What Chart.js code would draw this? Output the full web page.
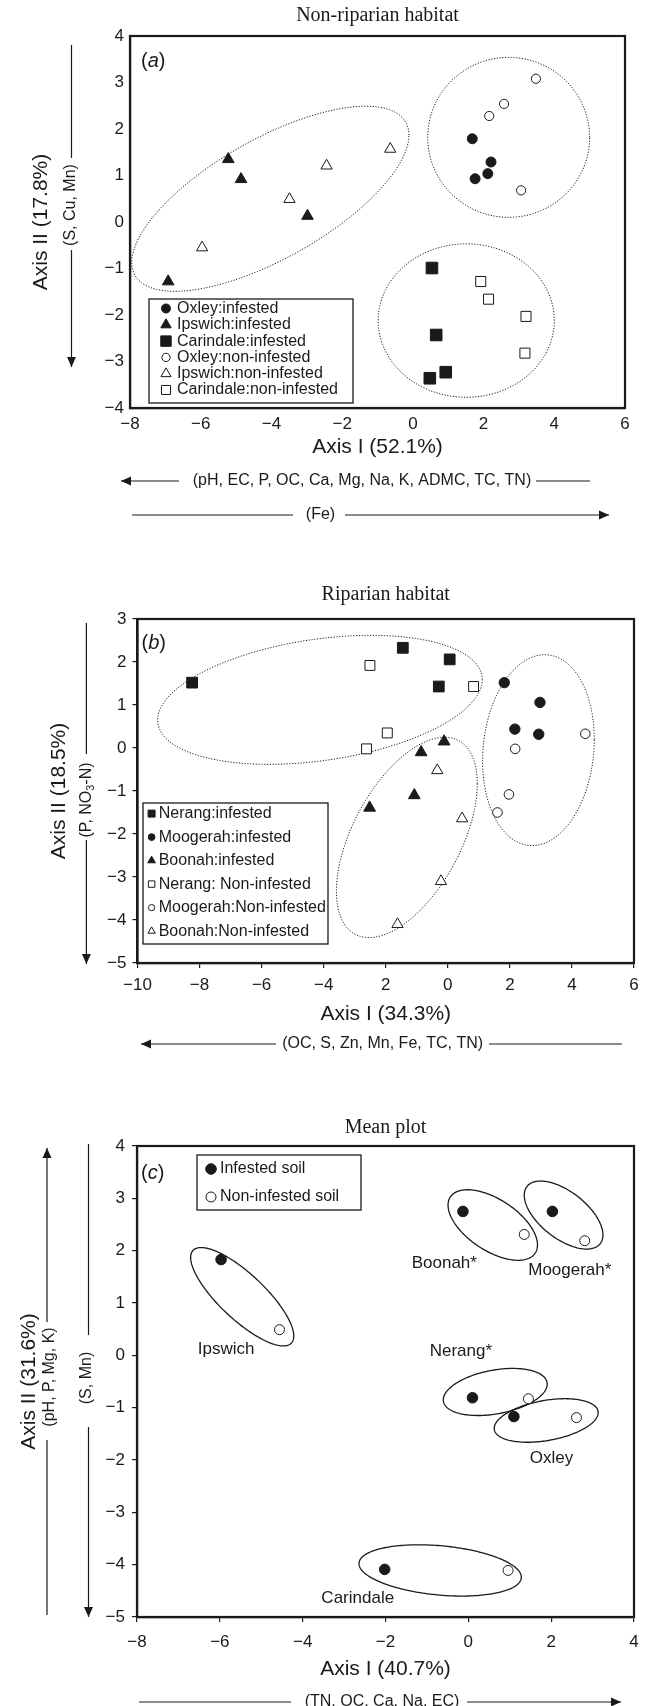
<!DOCTYPE html>
<html>
<head>
<meta charset="utf-8">
<title>Soil ordination plots</title>
<script src="https://cdn.jsdelivr.net/npm/chart.js@4.4.1/dist/chart.umd.min.js"></script>
<style>
  html, body { margin: 0; padding: 0; background: #fff; }
  body { width: 651px; height: 1706px; position: relative; overflow: hidden; }
  .panel { position: absolute; left: 0; width: 651px; }
</style>
</head>
<body>
<div class="panel" style="top:0;height:560px"><canvas id="chartA"></canvas></div>
<div class="panel" style="top:560px;height:520px"><canvas id="chartB"></canvas></div>
<div class="panel" style="top:1080px;height:626px"><canvas id="chartC"></canvas></div>
<script>
const INK = '#1a1a1a';
const SANS = "'Liberation Sans', Arial, sans-serif";
const SERIF = "'Liberation Serif', 'Times New Roman', serif";

// ---- Panel (a): non-riparian habitat ----
const oxleyInfA     = [[1.68, 1.79], [2.21, 1.29], [2.12, 1.04], [1.76, 0.93]];
const ipswichInfA   = [[-5.22, 1.35], [-4.86, 0.92], [-2.98, 0.13], [-6.92, -1.28]];
const carindaleInfA = [[0.54, -0.99], [0.66, -2.43], [0.93, -3.23], [0.48, -3.36]];
const oxleyNonA     = [[3.48, 3.08], [2.58, 2.54], [2.16, 2.28], [3.06, 0.68]];
const ipswichNonA   = [[-5.96, -0.55], [-3.49, 0.49], [-2.44, 1.21], [-0.64, 1.57]];
const carindaleNonA = [[1.92, -1.28], [2.14, -1.66], [3.20, -2.03], [3.17, -2.82]];
// groups: centre x, centre y, half width, half height, rise of the rightmost point
const ellipsesA = [[-4.03, 0.50, 3.92, 1.99, 1.37], [2.71, 1.82, 2.29, 1.72, 0], [1.51, -2.12, 2.49, 1.65, 0]];
const xTicksA = ['−8', '−6', '−4', '−2', '0', '2', '4', '6'];
const yTicksA = ['−4', '−3', '−2', '−1', '0', '1', '2', '3', '4'];

// ---- Panel (b): riparian habitat ----
const nerangInfB   = [[-8.24, 1.52], [-1.45, 2.33], [0.06, 2.06], [-0.29, 1.43]];
const moogerahInfB = [[1.82, 1.52], [2.97, 1.06], [2.16, 0.44], [2.93, 0.32]];
const boonahInfB   = [[-0.12, 0.15], [-0.86, -0.10], [-1.08, -1.10], [-2.52, -1.39]];
const nerangNonB   = [[-2.51, 1.92], [0.83, 1.43], [-1.95, 0.35], [-2.62, -0.02]];
const moogerahNonB = [[4.43, 0.33], [2.17, -0.02], [1.97, -1.08], [1.60, -1.50]];
const boonahNonB   = [[-0.34, -0.52], [0.46, -1.64], [-0.22, -3.10], [-1.62, -4.10]];
const ellipsesB = [[-4.12, 1.12, 5.23, 1.50, 0.47], [-1.32, -2.08, 2.27, 2.33, 1.25], [2.92, -0.05, 1.80, 2.22, 0.25]];
const xTicksB = ['−10', '−8', '−6', '−4', '2', '0', '2', '4', '6'];
const yTicksB = ['−5', '−4', '−3', '−2', '−1', '0', '1', '2', '3'];

// ---- Panel (c): mean plot ----
const siteNamesC   = ['Ipswich', 'Boonah*', 'Moogerah*', 'Nerang*', 'Oxley', 'Carindale'];
const infestedC    = [[-5.97, 1.83], [-0.13, 2.75], [2.03, 2.75], [0.10, -0.81], [1.10, -1.17], [-2.02, -4.09]];
const nonInfestedC = [[-4.56, 0.49], [1.35, 2.31], [2.81, 2.19], [1.45, -0.83], [2.61, -1.19], [0.96, -4.11]];
const siteLabelAtC = [[-5.85, 0.11], [-0.58, 1.75], [2.45, 1.62], [-0.18, 0.07], [2.01, -1.97], [-2.67, -4.65]];
const ellipsesC = [[-5.46, 1.12, 1.245, 0.94, -0.75], [0.59, 2.49, 1.08, 0.674, -0.38], [2.30, 2.68, 0.95, 0.65, -0.38],
                   [0.65, -0.70, 1.255, 0.45, 0.15], [1.88, -1.245, 1.255, 0.416, 0.15], [-0.68, -4.11, 1.96, 0.49, -0.13]];
const xTicksC = ['−8', '−6', '−4', '−2', '0', '2', '4'];
const yTicksC = ['−5', '−4', '−3', '−2', '−1', '0', '1', '2', '3', '4'];

Chart.defaults.font.family = SANS;
Chart.defaults.color = INK;

function toPoints(pairs) {
    return pairs.map(p => ({ x: p[0], y: p[1] }));
}

function makeDataset(label, pairs, style, radius, filled) {
    return {
        label: label,
        data: toPoints(pairs),
        pointStyle: style,
        pointRadius: radius,
        pointHoverRadius: radius,
        pointBackgroundColor: filled ? INK : '#fff',
        pointBorderColor: INK,
        pointBorderWidth: 1
    };
}

// same shapes Chart.js uses, for the legend boxes
function drawMarker(ctx, style, r, x, y, filled) {
    ctx.beginPath();
    if (style === 'circle') {
        ctx.arc(x, y, r, 0, Math.PI * 2);
    } else if (style === 'triangle') {
        ctx.moveTo(x, y - r);
        ctx.lineTo(x + r * 0.866, y + r / 2);
        ctx.lineTo(x - r * 0.866, y + r / 2);
        ctx.closePath();
    } else {
        const s = r * Math.SQRT1_2;
        ctx.rect(x - s, y - s, 2 * s, 2 * s);
    }
    ctx.fillStyle = filled ? INK : '#fff';
    ctx.fill();
    ctx.lineWidth = 1;
    ctx.strokeStyle = INK;
    ctx.stroke();
}

// text made of pieces (italic letter, subscript digit)
function richText(ctx, parts, x, y, size, align, rotate) {
    if (typeof parts === 'string') parts = [{ t: parts }];
    ctx.save();
    ctx.translate(x, y);
    if (rotate) ctx.rotate(-Math.PI / 2);
    const fonts = parts.map(p => (p.italic ? 'italic ' : '') + (p.sub ? size * 0.68 : size) + 'px ' + SANS);
    let total = 0;
    const widths = parts.map((p, i) => {
        ctx.font = fonts[i];
        const w = ctx.measureText(p.t).width;
        total += w;
        return w;
    });
    let cx = align === 'center' ? -total / 2 : 0;
    ctx.textBaseline = 'middle';
    ctx.textAlign = 'left';
    ctx.fillStyle = INK;
    parts.forEach((p, i) => {
        ctx.font = fonts[i];
        ctx.fillText(p.t, cx, p.sub ? size * 0.3 : 0);
        cx += widths[i];
    });
    ctx.restore();
}

function arrowHead(ctx, x, y, dir) {
    const L = 10, W = 4.5;
    ctx.beginPath();
    if (dir === 'down') { ctx.moveTo(x, y); ctx.lineTo(x - W, y - L); ctx.lineTo(x + W, y - L); }
    if (dir === 'up') { ctx.moveTo(x, y); ctx.lineTo(x - W, y + L); ctx.lineTo(x + W, y + L); }
    if (dir === 'left') { ctx.moveTo(x, y); ctx.lineTo(x + L, y - W); ctx.lineTo(x + L, y + W); }
    if (dir === 'right') { ctx.moveTo(x, y); ctx.lineTo(x - L, y - W); ctx.lineTo(x - L, y + W); }
    ctx.closePath();
    ctx.fill();
}

const panelDecor = {
    id: 'panelDecor',
    beforeDatasetsDraw(chart, args, opts) {
        const { ctx, scales: { x, y } } = chart;
        ctx.save();
        ctx.strokeStyle = INK;
        ctx.lineWidth = opts.ellipseWidth;
        ctx.setLineDash(opts.ellipseDash);
        opts.ellipses.forEach(e => {
            const [cx, cy, w, h, tilt] = e;
            const v = Math.sqrt(Math.max(h * h - tilt * tilt, 0.0001));
            ctx.beginPath();
            for (let i = 0; i <= 200; i++) {
                const t = i / 200 * 2 * Math.PI;
                const px = x.getPixelForValue(cx + w * Math.cos(t));
                const py = y.getPixelForValue(cy + tilt * Math.cos(t) + v * Math.sin(t));
                if (i === 0) ctx.moveTo(px, py); else ctx.lineTo(px, py);
            }
            ctx.closePath();
            ctx.stroke();
        });
        ctx.restore();
    },
    afterDraw(chart, args, opts) {
        const { ctx, chartArea: area, scales: { x, y } } = chart;
        ctx.save();
        ctx.setLineDash([]);
        ctx.strokeStyle = INK;
        ctx.fillStyle = INK;

        // frame round the plot
        ctx.lineWidth = 2.2;
        ctx.strokeRect(area.left, area.top, area.right - area.left, area.bottom - area.top);

        // panel letter
        richText(ctx, [{ t: '(' }, { t: opts.letter, italic: true }, { t: ')' }],
            area.left + opts.letterAt[0], area.top + opts.letterAt[1], 20, 'left', false);

        // site names
        (opts.siteNames || []).forEach((name, i) => {
            const p = opts.siteAt[i];
            richText(ctx, name, x.getPixelForValue(p[0]), y.getPixelForValue(p[1]), 17, 'center', false);
        });

        // legend box
        const lg = opts.legend;
        const bx = area.left + lg.left, by = area.top + lg.top;
        ctx.fillStyle = '#fff';
        ctx.fillRect(bx, by, lg.width, lg.height);
        ctx.lineWidth = 1.3;
        ctx.strokeStyle = INK;
        ctx.strokeRect(bx, by, lg.width, lg.height);
        chart.data.datasets.forEach((ds, i) => {
            const ry = by + lg.rowTop + i * lg.rowStep;
            drawMarker(ctx, ds.pointStyle, ds.pointRadius * lg.scale, bx + lg.markerX, ry, ds.pointBackgroundColor === INK);
            richText(ctx, ds.label, bx + lg.textX, ry, 16, 'left', false);
        });

        // loading arrows and element lists beside the axes
        ctx.strokeStyle = INK;
        ctx.fillStyle = INK;
        ctx.lineWidth = 1.2;
        opts.sideLines.forEach(l => {
            const [x1, y1, x2, y2, head] = l;
            ctx.beginPath();
            ctx.moveTo(x1, y1);
            ctx.lineTo(x2, y2);
            ctx.stroke();
            if (head) {
                const vertical = x1 === x2;
                const hx = head === 'start' ? x1 : x2, hy = head === 'start' ? y1 : y2;
                let dir;
                if (vertical) dir = (head === 'end') === (y2 > y1) ? 'down' : 'up';
                else dir = (head === 'end') === (x2 > x1) ? 'right' : 'left';
                arrowHead(ctx, hx, hy, dir);
            }
        });
        opts.sideTexts.forEach(t => richText(ctx, t.parts, t.x, t.y, 16, 'center', t.rot));
        ctx.restore();
    }
};

function makeChart(id, cfg) {
    const tickFont = { family: SANS, size: 17 };
    const titleFont = { family: SANS, size: 21 };
    return new Chart(document.getElementById(id), {
        type: 'scatter',
        data: { datasets: cfg.datasets },
        options: {
            responsive: true,
            maintainAspectRatio: false,
            animation: false,
            events: [],
            layout: { padding: { left: 0, right: cfg.padRight, top: 0, bottom: 0 } },
            plugins: {
                legend: { display: false },
                tooltip: { enabled: false },
                title: {
                    display: true,
                    text: cfg.title,
                    fullSize: false,
                    color: INK,
                    font: { family: SERIF, size: 20, weight: 'normal' },
                    padding: cfg.titlePad
                },
                panelDecor: cfg.decor
            },
            scales: {
                x: {
                    type: 'linear',
                    min: cfg.xRange[0],
                    max: cfg.xRange[1],
                    grid: { drawOnChartArea: false, drawTicks: cfg.tickMarks, tickLength: 5, color: INK, lineWidth: 1.2 },
                    border: { display: true, color: INK, width: 2.2 },
                    ticks: {
                        stepSize: 2,
                        font: tickFont,
                        color: INK,
                        padding: cfg.xTickPad,
                        maxRotation: 0,
                        autoSkip: false,
                        callback: (v, i) => cfg.xTicks[i]
                    },
                    title: { display: true, text: cfg.xTitle, font: titleFont, color: INK, padding: { top: 0, bottom: cfg.xTitlePad } },
                    afterFit: s => { s.height = cfg.xHeight; }
                },
                y: {
                    type: 'linear',
                    min: cfg.yRange[0],
                    max: cfg.yRange[1],
                    grid: { drawOnChartArea: false, drawTicks: cfg.tickMarks, tickLength: 5, color: INK, lineWidth: 1.2 },
                    border: { display: true, color: INK, width: 2.2 },
                    ticks: {
                        stepSize: 1,
                        font: tickFont,
                        color: INK,
                        padding: cfg.yTickPad,
                        autoSkip: false,
                        callback: (v, i) => cfg.yTicks[i]
                    },
                    title: { display: true, text: cfg.yTitle, font: titleFont, color: INK, padding: { top: cfg.yTitlePad, bottom: 0 } },
                    afterFit: s => { s.width = cfg.yWidth; }
                }
            }
        },
        plugins: [panelDecor]
    });
}

// (a) Non-riparian habitat
makeChart('chartA', {
    title: 'Non-riparian habitat',
    titlePad: { top: 4, bottom: 8 },
    padRight: 26,
    xRange: [-8, 6], yRange: [-4, 4],
    xTicks: xTicksA, yTicks: yTicksA,
    tickMarks: false, xTickPad: 6, yTickPad: 6,
    xTitle: 'Axis I (52.1%)', xTitlePad: 100, xHeight: 152,
    yTitle: 'Axis II (17.8%)', yTitlePad: 29, yWidth: 130,
    datasets: [
        makeDataset('Oxley:infested', oxleyInfA, 'circle', 5, true),
        makeDataset('Ipswich:infested', ipswichInfA, 'triangle', 6.7, true),
        makeDataset('Carindale:infested', carindaleInfA, 'rect', 8.2, true),
        makeDataset('Oxley:non-infested', oxleyNonA, 'circle', 4.6, false),
        makeDataset('Ipswich:non-infested', ipswichNonA, 'triangle', 6.5, false),
        makeDataset('Carindale:non-infested', carindaleNonA, 'rect', 7.1, false)
    ],
    decor: {
        ellipses: ellipsesA, ellipseDash: [1.2, 1.6], ellipseWidth: 1,
        letter: 'a', letterAt: [11, 25],
        legend: { left: 19, top: 263, width: 204, height: 104, rowTop: 9.5, rowStep: 16.3, markerX: 17, textX: 28, scale: 0.9 },
        sideLines: [
            [71.5, 45, 71.5, 158, null], [71.5, 250, 71.5, 367, 'end'],
            [121, 481, 179, 481, 'start'], [536, 481, 590, 481, null],
            [132, 515, 293, 515, null], [345, 515, 609, 515, 'end']
        ],
        sideTexts: [
            { parts: '(S, Cu, Mn)', x: 71, y: 205, rot: true },
            { parts: '(pH, EC, P, OC, Ca, Mg, Na, K, ADMC, TC, TN)', x: 362, y: 481, rot: false },
            { parts: '(Fe)', x: 320.5, y: 515, rot: false }
        ]
    }
});

// (b) Riparian habitat
makeChart('chartB', {
    title: 'Riparian habitat',
    titlePad: { top: 23, bottom: 12 },
    padRight: 17,
    xRange: [-10, 6], yRange: [-5, 3],
    xTicks: xTicksB, yTicks: yTicksB,
    tickMarks: true, xTickPad: 7, yTickPad: 6,
    xTitle: 'Axis I (34.3%)', xTitlePad: 53, xHeight: 117,
    yTitle: 'Axis II (18.5%)', yTitlePad: 47, yWidth: 137.5,
    datasets: [
        makeDataset('Nerang:infested', nerangInfB, 'rect', 7.6, true),
        makeDataset('Moogerah:infested', moogerahInfB, 'circle', 5.2, true),
        makeDataset('Boonah:infested', boonahInfB, 'triangle', 6.8, true),
        makeDataset('Nerang: Non-infested', nerangNonB, 'rect', 7, false),
        makeDataset('Moogerah:Non-infested', moogerahNonB, 'circle', 4.8, false),
        makeDataset('Boonah:Non-infested', boonahNonB, 'triangle', 6.5, false)
    ],
    decor: {
        ellipses: ellipsesB, ellipseDash: [1.2, 1.6], ellipseWidth: 1,
        letter: 'b', letterAt: [4, 24],
        legend: { left: 5.5, top: 184, width: 185, height: 141, rowTop: 10.6, rowStep: 23.5, markerX: 8.6, textX: 15.7, scale: 0.65 },
        sideLines: [
            [86.4, 63, 86.4, 194, null], [86.4, 280, 86.4, 404, 'end'],
            [141, 484, 276, 484, 'start'], [489, 484, 622, 484, null]
        ],
        sideTexts: [
            { parts: [{ t: '(P, NO' }, { t: '3', sub: true }, { t: '-N)' }], x: 86.4, y: 240, rot: true },
            { parts: '(OC, S, Zn, Mn, Fe, TC, TN)', x: 382.6, y: 484, rot: false }
        ]
    }
});

// (c) Mean plot
makeChart('chartC', {
    title: 'Mean plot',
    titlePad: { top: 36, bottom: 6 },
    padRight: 17,
    xRange: [-8, 4], yRange: [-5, 4],
    xTicks: xTicksC, yTicks: yTicksC,
    tickMarks: true, xTickPad: 10, yTickPad: 7,
    xTitle: 'Axis I (40.7%)', xTitlePad: 24, xHeight: 89,
    yTitle: 'Axis II (31.6%)', yTitlePad: 16.4, yWidth: 137,
    datasets: [
        makeDataset('Infested soil', infestedC, 'circle', 5.3, true),
        makeDataset('Non-infested soil', nonInfestedC, 'circle', 5, false)
    ],
    decor: {
        ellipses: ellipsesC, ellipseDash: [], ellipseWidth: 1.3,
        letter: 'c', letterAt: [4, 27],
        siteNames: siteNamesC, siteAt: siteLabelAtC,
        legend: { left: 60, top: 9, width: 164, height: 55, rowTop: 14, rowStep: 28, markerX: 14, textX: 23, scale: 1 },
        sideLines: [
            [47, 68, 47, 242, 'start'], [47, 360, 47, 535, null],
            [88.5, 64, 88.5, 255, null], [88.5, 347, 88.5, 537, 'end'],
            [139, 622, 291, 622, null], [467, 622, 621, 622, 'end']
        ],
        sideTexts: [
            { parts: '(pH, P, Mg, K)', x: 50, y: 297, rot: true },
            { parts: '(S, Mn)', x: 86.4, y: 298, rot: true },
            { parts: '(TN, OC, Ca, Na, EC)', x: 382, y: 622, rot: false }
        ]
    }
});
</script>
</body>
</html>
